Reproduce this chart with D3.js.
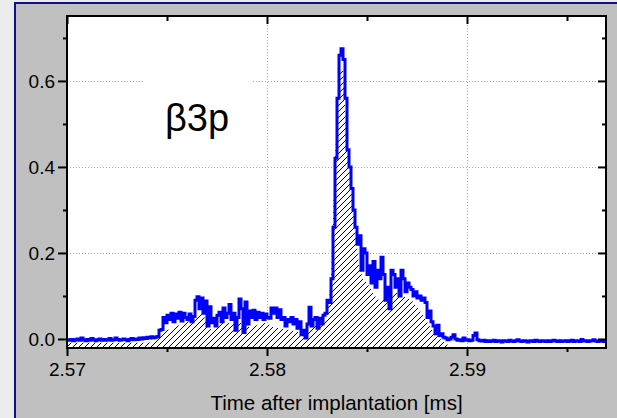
<!DOCTYPE html>
<html>
<head>
<meta charset="utf-8">
<script src="https://cdn.jsdelivr.net/npm/d3@7"></script>
<style>
  html, body { margin: 0; padding: 0; background: #ececec; }
  svg { display: block; font-family: "Liberation Sans", Arial, sans-serif; }
</style>
</head>
<body>
<svg id="chart" width="617" height="418"></svg>
<script>
// Measured decay-time spectrum (blue, step histogram), bins of 0.0001 ms from 2.5700 ms
const timeStart = 2.57;
const binWidth = 0.0001;
const measured = [
  -0.002, -0.003, -0.001, -0.004, -0.002, 0.000, -0.003, 0.002, -0.002, -0.004,
  -0.001, -0.003, 0.001, -0.002, -0.004, -0.002, 0.000, -0.003, -0.001, -0.003,
  -0.002, 0.001, -0.003, -0.002, 0.002, -0.001, -0.003, -0.002, 0.000, -0.002,
  -0.004, -0.001, 0.001, -0.002, 0.000, -0.001, 0.002, 0.000, 0.003, 0.001,
  0.004, 0.002, 0.005, 0.003, 0.004, 0.006, 0.020, 0.022, 0.050, 0.038,
  0.055, 0.045, 0.060, 0.040, 0.058, 0.048, 0.062, 0.042, 0.060, 0.050,
  0.045, 0.058, 0.040, 0.052, 0.090, 0.098, 0.070, 0.095, 0.060, 0.088,
  0.030, 0.075, 0.038, 0.048, 0.030, 0.055, 0.062, 0.040, 0.072, 0.050,
  0.060, 0.080, 0.045, 0.060, 0.020, 0.050, 0.093, 0.070, 0.015, 0.086,
  0.035, 0.065, 0.050, 0.067, 0.045, 0.062, 0.050, 0.060, 0.045, 0.058,
  0.050, 0.048, 0.072, 0.060, 0.072, 0.050, 0.068, 0.045, 0.050, 0.030,
  0.045, 0.040, 0.050, 0.035, 0.045, 0.025, 0.040, 0.010, 0.020, 0.002,
  0.035, 0.074, 0.030, 0.045, 0.050, 0.025, 0.048, 0.035, 0.055, 0.060,
  0.090, 0.085, 0.140, 0.260, 0.420, 0.560, 0.660, 0.675, 0.650, 0.560,
  0.440, 0.400, 0.350, 0.300, 0.260, 0.220, 0.240, 0.160, 0.210, 0.200,
  0.150, 0.170, 0.130, 0.180, 0.120, 0.160, 0.140, 0.190, 0.150, 0.090,
  0.120, 0.070, 0.160, 0.150, 0.120, 0.140, 0.100, 0.160, 0.140, 0.110,
  0.130, 0.120, 0.115, 0.100, 0.110, 0.095, 0.100, 0.090, 0.095, 0.085,
  0.050, 0.065, 0.040, 0.030, 0.012, 0.032, 0.008, 0.012, 0.004, 0.002,
  -0.002, 0.000, 0.004, 0.010, 0.000, -0.003, -0.002, -0.004, 0.002, -0.003,
  -0.002, -0.004, -0.003, 0.008, 0.014, -0.002, -0.004, -0.005, -0.003, -0.006,
  -0.004, -0.006, -0.005, -0.003, -0.006, -0.004, -0.005, -0.007, -0.004, -0.005,
  -0.006, -0.003, -0.005, -0.006, -0.004, -0.002, -0.005, -0.006, -0.004, -0.005,
  -0.007, -0.005, -0.004, -0.006, -0.003, -0.005, -0.006, -0.004, -0.005, -0.006,
  -0.004, -0.006, -0.005, -0.003, -0.005, -0.006, -0.004, -0.006, -0.005, -0.004,
  -0.006, -0.005, -0.003, -0.006, -0.004, -0.005, -0.006, -0.001, -0.005, -0.004,
  -0.006, -0.005, -0.004, -0.002, -0.005, -0.006, -0.004, -0.005, -0.006, -0.005
];

// Simulated spectrum (hatched area), bins of 0.0002 ms from 2.5700 ms
const simStart = 2.57;
const simBinWidth = 0.0002;
const simulated = [
  -0.009, -0.009, -0.009, -0.009, -0.009, -0.009, -0.009, -0.009, -0.009, -0.009,
  -0.009, -0.009, -0.009, -0.009, -0.009, -0.009, -0.009, -0.009, -0.009, -0.009,
  -0.009, -0.008, -0.002, 0.004, 0.014, 0.020, 0.024, 0.028, 0.032, 0.036,
  0.040, 0.042, 0.045, 0.055, 0.060, 0.035, 0.022, 0.028, 0.034, 0.040,
  0.042, 0.035, 0.038, 0.044, 0.028, 0.030, 0.026, 0.030, 0.034, 0.036,
  0.038, 0.030, 0.026, 0.025, 0.024, 0.022, 0.020, 0.018, 0.015, 0.012,
  0.018, 0.024, 0.030, 0.040, 0.045, 0.050, 0.140, 0.420, 0.620, 0.630,
  0.450, 0.370, 0.260, 0.170, 0.140, 0.130, 0.115, 0.100, 0.090, 0.095,
  0.100, 0.107, 0.110, 0.105, 0.100, 0.095, 0.092, 0.080, 0.068, 0.055,
  0.040, 0.025, 0.012, 0.002, -0.006, -0.012, -0.018, -0.022, -0.026, -0.030
];

const xTicks = [2.57, 2.58, 2.59];
const xMinorTicks = [2.575, 2.585, 2.595];
const yTicks = [0.0, 0.2, 0.4, 0.6];
const yMinorTicks = [0.1, 0.3, 0.5, 0.7];
const xGrid = [2.58, 2.59];
const xTitle = "Time after implantation [ms]";
const tag = "β3p";

const svg = d3.select("#chart");
const plot = { left: 67, top: 16, right: 606, bottom: 348 };

const x = d3.scaleLinear().domain([2.57, 2.59695]).range([plot.left, plot.right]);
const y = d3.scaleLinear().domain([-0.021, 0.751]).range([plot.bottom, plot.top]);

// figure panel
svg.append("rect")
  .attr("x", 15).attr("y", 3).attr("width", 640).attr("height", 440)
  .attr("fill", "#c0c0c0").attr("stroke", "#10108a").attr("stroke-width", 2);

const defs = svg.append("defs");
defs.append("clipPath").attr("id", "plot-clip")
  .append("rect")
  .attr("x", plot.left).attr("y", plot.top)
  .attr("width", plot.right - plot.left).attr("height", plot.bottom - plot.top);

const pat = defs.append("pattern").attr("id", "hatch")
  .attr("patternUnits", "userSpaceOnUse").attr("width", 6).attr("height", 6);
pat.append("rect").attr("width", 6).attr("height", 6).attr("fill", "#fff");
pat.append("path").attr("d", "M-1,1 l2,-2 M0,6 l6,-6 M5,7 l2,-2")
  .attr("stroke", "#000").attr("stroke-width", 1);

// plot background
svg.append("rect")
  .attr("x", plot.left).attr("y", plot.top)
  .attr("width", plot.right - plot.left).attr("height", plot.bottom - plot.top)
  .attr("fill", "#fff");

// grid
const grid = svg.append("g").attr("stroke", "#a8a8a8").attr("stroke-width", 1)
  .attr("stroke-dasharray", "1,2");
grid.selectAll(".gy").data(yTicks).join("line")
  .attr("x1", plot.left).attr("x2", plot.right)
  .attr("y1", d => Math.round(y(d)) + 0.5).attr("y2", d => Math.round(y(d)) + 0.5);
grid.selectAll(".gx").data(xGrid).join("line")
  .attr("y1", plot.top).attr("y2", plot.bottom)
  .attr("x1", d => Math.round(x(d)) + 0.5).attr("x2", d => Math.round(x(d)) + 0.5);

const layer = svg.append("g").attr("clip-path", "url(#plot-clip)");

// simulated spectrum, hatched
const area = d3.area()
  .x((d, i) => x(simStart + i * simBinWidth))
  .y0(plot.bottom + 2)
  .y1(d => y(d));
layer.append("path").datum(simulated)
  .attr("d", area)
  .attr("fill", "url(#hatch)");

// measured spectrum, blue step line
const line = d3.line()
  .x((d, i) => x(timeStart + i * binWidth))
  .y(d => y(d))
  .curve(d3.curveStepAfter);
layer.append("path").datum(measured)
  .attr("d", line)
  .attr("fill", "none")
  .attr("stroke", "#0000ff")
  .attr("stroke-width", 3)
  .attr("stroke-linejoin", "miter");

// label with white box
svg.append("rect")
  .attr("x", 143).attr("y", 60).attr("width", 109).attr("height", 98)
  .attr("fill", "#fff");
svg.append("text")
  .attr("x", 165).attr("y", 131)
  .attr("font-size", 38).attr("fill", "#000")
  .text(tag);

// frame
svg.append("rect")
  .attr("x", plot.left).attr("y", plot.top)
  .attr("width", plot.right - plot.left).attr("height", plot.bottom - plot.top)
  .attr("fill", "none").attr("stroke", "#000").attr("stroke-width", 2);

function styleAxis(g) {
  g.select(".domain").remove();
  g.selectAll(".tick line").attr("stroke", "#000").attr("stroke-width", 2);
  g.selectAll(".tick text").attr("font-size", 19).attr("fill", "#000")
    .attr("font-family", "'Liberation Sans', Arial, sans-serif");
}

// left axis
svg.append("g").attr("transform", `translate(${plot.left},0)`)
  .call(d3.axisLeft(y).tickValues(yTicks).tickFormat(d3.format(".1f")).tickSize(9).tickPadding(3))
  .call(styleAxis);
svg.append("g").attr("transform", `translate(${plot.left},0)`)
  .call(d3.axisLeft(y).tickValues(yMinorTicks).tickFormat("").tickSize(4))
  .call(styleAxis);

// right axis (inward)
svg.append("g").attr("transform", `translate(${plot.right},0)`)
  .call(d3.axisRight(y).tickValues(yTicks).tickFormat("").tickSize(-8))
  .call(styleAxis);
svg.append("g").attr("transform", `translate(${plot.right},0)`)
  .call(d3.axisRight(y).tickValues(yMinorTicks).tickFormat("").tickSize(-4))
  .call(styleAxis);

// bottom axis
svg.append("g").attr("transform", `translate(0,${plot.bottom})`)
  .call(d3.axisBottom(x).tickValues(xTicks).tickFormat(d3.format(".2f")).tickSize(8).tickPadding(7))
  .call(styleAxis);
svg.append("g").attr("transform", `translate(0,${plot.bottom})`)
  .call(d3.axisBottom(x).tickValues(xMinorTicks).tickFormat("").tickSize(4))
  .call(styleAxis);

// top axis (inward)
svg.append("g").attr("transform", `translate(0,${plot.top})`)
  .call(d3.axisTop(x).tickValues(xTicks).tickFormat("").tickSize(-8))
  .call(styleAxis);
svg.append("g").attr("transform", `translate(0,${plot.top})`)
  .call(d3.axisTop(x).tickValues(xMinorTicks).tickFormat("").tickSize(-5))
  .call(styleAxis);

// axis title
svg.append("text")
  .attr("x", (plot.left + plot.right) / 2).attr("y", 410)
  .attr("text-anchor", "middle")
  .attr("font-size", 20.5).attr("fill", "#000")
  .text(xTitle);
</script>
</body>
</html>
